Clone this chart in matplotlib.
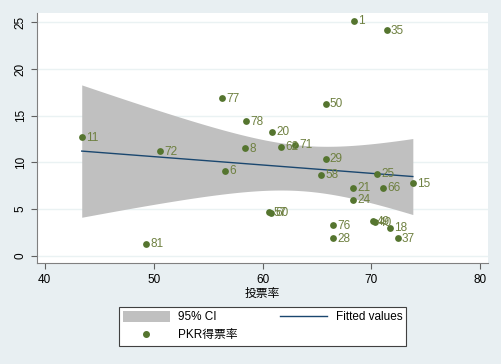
import numpy as np
import matplotlib
matplotlib.use('Agg')
import matplotlib.pyplot as plt
from matplotlib.patches import Patch
from matplotlib.lines import Line2D

plt.rcParams['font.family'] = ['Liberation Sans', 'Noto Sans CJK SC', 'DejaVu Sans']

# Data: turnout (x), PKR vote share (y), district labels
turnout = [43.4, 56.3, 58.5, 60.9, 58.4, 50.6, 56.6, 49.3, 60.6, 60.8,
           68.4, 71.4, 65.8, 61.7, 63.0, 65.8, 65.4, 70.5, 73.8, 68.3,
           71.1, 68.3, 66.5, 66.5, 70.1, 70.3, 71.7, 72.4]
pkr_share = [12.7, 16.9, 14.4, 13.3, 11.5, 11.2, 9.1, 1.3, 4.7, 4.6,
             25.2, 24.2, 16.3, 11.7, 11.9, 10.4, 8.7, 8.8, 7.8, 7.3,
             7.3, 6.0, 3.3, 1.9, 3.7, 3.6, 3.0, 1.9]
labels = ['11', '77', '78', '20', '8', '72', '6', '81', '57', '60',
          '1', '35', '50', '62', '71', '29', '58', '25', '15', '21',
          '66', '24', '76', '28', '49', '40', '18', '37']

x = np.array(turnout)
y = np.array(pkr_share)

# Linear fit with 95% CI of the mean
slope, intercept = np.polyfit(x, y, 1)
n = len(x)
resid = y - (slope * x + intercept)
s = np.sqrt(np.sum(resid ** 2) / (n - 2))
sxx = np.sum((x - x.mean()) ** 2)
t_crit = 2.056  # t(0.975, df=26)
xs = np.linspace(x.min(), x.max(), 200)
fit = slope * xs + intercept
half = t_crit * s * np.sqrt(1 / n + (xs - x.mean()) ** 2 / sxx)

bg = '#E8EFF2'
green = '#55752F'
navy = '#1A476F'

fig = plt.figure(figsize=(5.01, 3.64), dpi=100, facecolor=bg)
ax = fig.add_axes([0.074, 0.277, 0.9, 0.687])
ax.set_facecolor('white')

ax.fill_between(xs, fit - half, fit + half, color='#C0C0C0', lw=0, zorder=1)
ax.plot(xs, fit, color=navy, lw=1.0, zorder=2)
ax.scatter(x, y, s=24, color=green, zorder=3, linewidths=0)
for xi, yi, lab in zip(x, y, labels):
    ax.annotate(lab, (xi, yi), xytext=(3, -0.5), textcoords='offset points',
                va='center', ha='left', fontsize=8.5, color='#6E8040', zorder=4)

ax.set_xlim(39.3, 80.7)
ax.set_ylim(-0.8, 26.0)
ax.set_xticks([40, 50, 60, 70, 80])
ax.set_yticks([0, 5, 10, 15, 20, 25])
ax.grid(axis='y', color='#EAF2F3', lw=1.0, zorder=0)
ax.set_axisbelow(True)

for side in ['top', 'right']:
    ax.spines[side].set_visible(False)
ax.spines['left'].set_color('#808080')
ax.spines['bottom'].set_color('#808080')
ax.tick_params(axis='both', labelsize=8.5, color='#606060', length=4, width=0.8)
ax.tick_params(axis='y', labelrotation=90)
for lab in ax.get_yticklabels():
    lab.set_va('center')

ax.set_xlabel('投票率', fontsize=8.5, labelpad=2)

handles = [Patch(facecolor='#C0C0C0', edgecolor='none'),
           Line2D([], [], marker='o', ls='none', color=green, markersize=4),
           Line2D([], [], color=navy, lw=1.0)]
names = ['95% CI', 'PKR得票率', 'Fitted values']
leg = fig.legend(handles, names, ncol=2, loc='center',
                 bbox_to_anchor=(0.524, 0.104), fontsize=8.5,
                 fancybox=False, edgecolor='#404040', framealpha=1,
                 handlelength=4.0, handleheight=1.1, columnspacing=3.6,
                 borderpad=0.35, borderaxespad=0,
                 labelspacing=0.45, handletextpad=0.7)
leg.get_frame().set_linewidth(0.8)

fig.savefig('out.png', dpi=100, facecolor=bg)
